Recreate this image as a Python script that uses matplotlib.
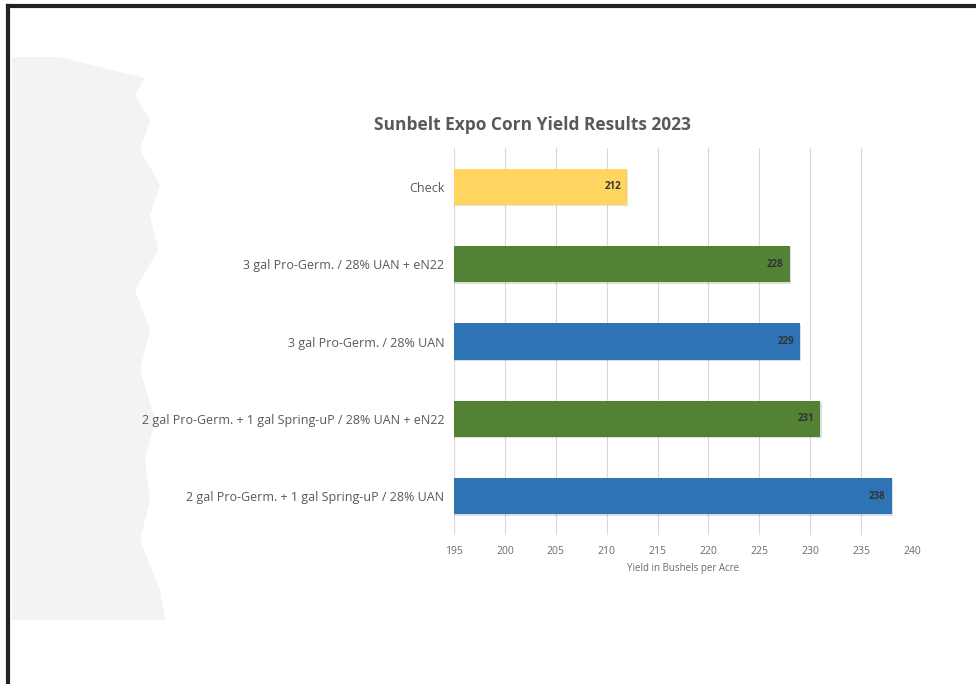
import matplotlib.pyplot as plt
import matplotlib.patheffects as pe
from matplotlib.patches import Polygon
import numpy as np

# Data (bottom to top as drawn)
treatments = [
    '2 gal Pro-Germ. + 1 gal Spring-uP / 28% UAN',
    '2 gal Pro-Germ. + 1 gal Spring-uP / 28% UAN + eN22',
    '3 gal Pro-Germ. / 28% UAN',
    '3 gal Pro-Germ. / 28% UAN + eN22',
    'Check',
]
yields = [238, 231, 229, 228, 212]
bar_colors = ['#2E74B5', '#548235', '#2E74B5', '#548235', '#FFD55F']
xticks = [195, 200, 205, 210, 215, 220, 225, 230, 235, 240]

plt.rcParams['font.family'] = ['Open Sans', 'DejaVu Sans']

fig = plt.figure(figsize=(9.76, 6.84), dpi=100)
fig.patch.set_facecolor('white')

# page frame (top and left edges)
fig.add_artist(plt.Line2D([8/976, 8/976], [0, 1 - 6/684], color='#222222', lw=3,
                          transform=fig.transFigure))
fig.add_artist(plt.Line2D([8/976, 1], [1 - 6/684, 1 - 6/684], color='#222222', lw=3,
                          transform=fig.transFigure))

# light gray brush-stroke background on the left
edge = [(145, 78), (135, 95), (150, 120), (140, 150), (160, 185), (150, 215),
        (158, 250), (135, 290), (150, 330), (140, 370), (155, 420), (145, 460),
        (150, 500), (140, 540), (160, 590), (165, 620)]
pts = [(12, 57), (60, 57), (120, 72)] + edge + [(12, 620)]
poly = Polygon([(x / 976, 1 - y / 684) for x, y in pts], closed=True,
               facecolor='#F3F2F4', edgecolor='none', transform=fig.transFigure, zorder=0)
fig.add_artist(poly)

ax = fig.add_axes([454/976, 1 - 535/684, 458/976, 387/684])
ax.set_facecolor('none')
y = np.arange(len(treatments))
bars = ax.barh(y, yields, left=0, height=0.47, color=bar_colors, zorder=3)
for b in bars:
    b.set_path_effects([pe.SimplePatchShadow(offset=(1, -1), alpha=0.15), pe.Normal()])

ax.set_xlim(195, 240)
ax.set_ylim(-0.5, 4.5)
ax.set_xticks(xticks)
ax.set_xticklabels([str(t) for t in xticks], fontsize=7.5, color='#6b6b6b')
ax.set_yticks(y)
ax.set_yticklabels(treatments, fontsize=9, color='#595959')
ax.tick_params(axis='both', length=0)
ax.tick_params(axis='x', pad=8)
ax.tick_params(axis='y', pad=7)
ax.grid(axis='x', color='#D9D9D9', lw=0.8, zorder=0)
for s in ax.spines.values():
    s.set_visible(False)

for yi, v in zip(y, yields):
    ax.text(v - 0.6, yi, str(v), ha='right', va='center', fontsize=7,
            fontweight='bold', color='#333333', zorder=4)

ax.set_xlabel('Yield in Bushels per Acre', fontsize=7, color='#6b6b6b', labelpad=4)

fig.text(532/976, 1 - 125/684, 'Sunbelt Expo Corn Yield Results 2023', ha='center',
         va='center', fontsize=12.5, fontweight='bold', color='#595959')

fig.savefig('out.png', dpi=100)
